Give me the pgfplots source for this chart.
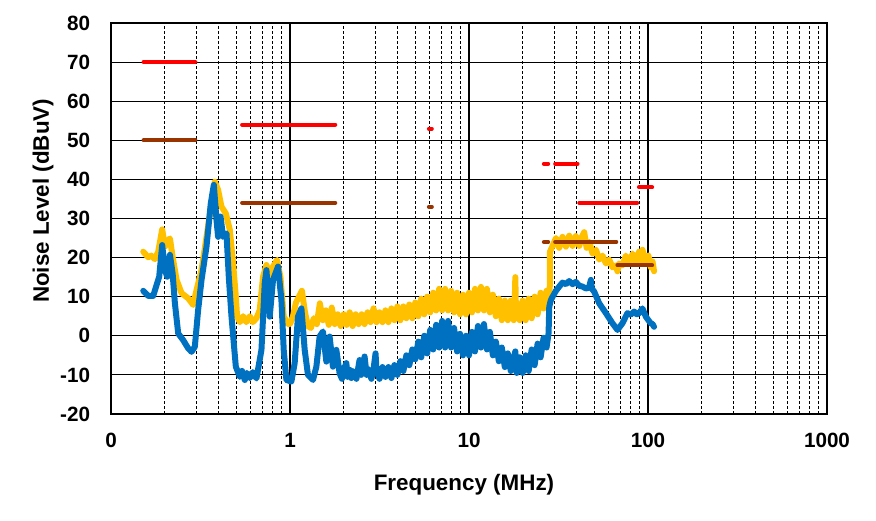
\documentclass[border=0pt]{standalone}
\usepackage{pgfplots}
\pgfplotsset{compat=1.18}
\usepackage{fontspec}
\setmainfont{Liberation Sans}
\definecolor{ylw}{RGB}{255,192,0}
\definecolor{blu}{RGB}{0,112,192}
\definecolor{limred}{RGB}{255,0,0}
\definecolor{limbrown}{RGB}{153,51,0}

\begin{document}
\begin{tikzpicture}
\begin{axis}[
  name=ax,
  scale only axis,
  width=537pt, height=293.25pt,
  xmode=log,
  xmin=0.1, xmax=1000,
  ymin=-20, ymax=80,
  xtick={0.1,1,10,100,1000},
  xticklabels={0,1,10,100,1000},
  minor xtick={0.2,0.3,0.4,0.5,0.6,0.7,0.8,0.9,2,3,4,5,6,7,8,9,20,30,40,50,60,70,80,90,200,300,400,500,600,700,800,900},
  ytick={-20,-10,0,10,20,30,40,50,60,70,80},
  yticklabels={-20,-10,0,10,20,30,40,50,60,70,80},
  xmajorgrids, xminorgrids, ymajorgrids,
  major grid style={black, line width=0.8pt},
  minor grid style={black, line width=0.75pt, dash pattern=on 2.25pt off 1.5pt},
  axis line style={black, line width=1.1pt},
  major tick length=0pt, minor tick length=0pt,
  tick label style={font=\fontsize{15.5}{18}\selectfont\bfseries},
  yticklabel style={anchor=east, inner sep=0pt, xshift=-15.5pt},
  xticklabel style={anchor=north, inner sep=0pt, yshift=-14pt},
  clip=false,
]
% measured noise, upper trace
\addplot[ylw, line width=4.5pt, line join=round, line cap=round] coordinates {
  (0.1514,21.5) (0.1614,20.1) (0.168,20.5) (0.1759,19.6) (0.1836,21.5) (0.1932,27.2)
  (0.2001,22.8) (0.2061,24.1) (0.2134,24.9) (0.2209,20.2) (0.2325,14.3) (0.2479,10.9)
  (0.2698,9.6) (0.2877,7.9) (0.3006,11.7) (0.3205,16.8) (0.3416,25.3) (0.3644,33.9)
  (0.3802,39.4) (0.3966,37.3) (0.4143,33.0) (0.4379,31.3) (0.4610,27.1) (0.4810,18.5)
  (0.4981,10.0) (0.5064,4.9) (0.525,3.5) (0.547,5.0) (0.570,3.5) (0.596,5.0) (0.620,3.5)
  (0.6496,4.5) (0.6776,6.6) (0.7070,15.1) (0.7386,18.1) (0.7706,15.1) (0.8039,17.7)
  (0.8462,19.4) (0.8842,15.1) (0.9224,4.9) (0.9745,3.0)
  (1.000,3.0) (1.039,5.0) (1.080,8.5) (1.122,10.0) (1.166,11.5) (1.212,6.0) (1.259,2.5)
  (1.308,2.0) (1.359,4.5) (1.413,3.0) (1.468,8.3) (1.525,4.0) (1.585,6.5) (1.647,2.8)
  (1.711,7.2) (1.778,3.0) (1.848,5.5) (1.920,2.5) (1.995,5.5) (2.073,2.8) (2.154,6.0)
  (2.239,2.5) (2.326,5.5) (2.417,3.0) (2.512,5.5) (2.610,3.0) (2.712,6.0) (2.818,3.5)
  (2.929,7.0) (3.043,3.5) (3.162,6.0) (3.286,3.5) (3.415,6.5) (3.548,3.5) (3.687,7.0)
  (3.831,4.0) (3.981,7.5) (4.137,4.0) (4.299,7.5) (4.467,4.5) (4.642,8.0) (4.823,4.5)
  (5.012,8.5) (5.208,5.0) (5.412,9.5) (5.623,5.5) (5.843,10.0) (6.072,6.0) (6.310,11.0)
  (6.556,6.5) (6.813,12.0) (7.079,6.5) (7.356,12.0) (7.644,6.5) (7.943,11.5) (8.254,6.0)
  (8.577,11.0) (8.913,5.5) (9.261,10.5) (9.624,5.5) (10.00,11.0) (10.39,6.0) (10.80,12.0)
  (11.22,6.5) (11.66,12.5) (12.12,6.5) (12.59,12.0) (13.08,6.0) (13.59,10.5) (14.13,5.0)
  (14.68,9.5) (15.25,4.0) (15.85,9.0) (16.47,4.0) (17.11,9.0) (17.78,4.0) (18.00,8.0)
  (18.15,15.0) (18.30,5.5) (18.48,8.5) (19.20,4.0) (19.95,9.0) (20.73,4.0) (21.54,9.5)
  (22.39,4.5) (23.26,10.0) (24.17,5.5) (25.12,11.0) (26.10,7.0) (27.12,11.5) (28.00,9.0)
  (28.25,12.0) (28.34,21.5) (29.31,23.0) (30.6,25.0) (31.9,22.5) (33.3,25.3) (34.8,22.8)
  (36.3,25.6) (37.9,23.0) (39.5,25.5) (41.3,23.0) (42.6,25.2) (44.0,26.5) (45.4,22.5)
  (47.0,24.0) (49.0,21.0) (51.2,22.0) (53.4,19.5) (55.7,20.5) (58.2,18.5) (60.7,19.5)
  (63.4,17.5) (66.1,18.0) (67.5,16.5) (69.0,18.5) (72.0,18.0) (75.2,20.5) (78.5,18.5)
  (82.0,21.0) (85.5,19.0) (89.2,21.5) (91.0,19.0) (93.1,22.0) (97.2,18.5) (100.5,20.5)
  (103.6,17.5) (106.0,19.0) (108.1,16.5)
};
% measured noise, lower trace
\addplot[blu, line width=4.5pt, line join=round, line cap=round] coordinates {
  (0.1514,11.5) (0.1614,10.2) (0.1721,10.2) (0.1798,13.0) (0.1859,15.1) (0.1932,23.2)
  (0.2001,16.8) (0.2061,15.1) (0.2134,20.7) (0.2209,16.0) (0.2275,8.3) (0.2374,0.6)
  (0.2530,-1.1) (0.2698,-3.2) (0.2818,-4.1) (0.2940,-2.8) (0.3068,6.6) (0.3205,14.3)
  (0.3416,22.8) (0.3611,33.9) (0.3754,38.6) (0.3886,29.6) (0.3966,25.3) (0.4090,30.5)
  (0.4229,25.3) (0.4418,26.2) (0.4550,15.1) (0.4712,4.9) (0.4853,-1.9) (0.4981,-7.9)
  (0.5243,-10.5) (0.540,-9.0) (0.5590,-11.3) (0.575,-9.5) (0.5959,-10.8) (0.620,-9.3)
  (0.6496,-10.9) (0.6927,-3.6) (0.7226,13.4) (0.7386,16.8) (0.7706,4.9) (0.8039,14.3)
  (0.8572,17.7) (0.8954,9.2) (0.9224,-3.6) (0.9548,-11.3) (1.018,-11.7) (1.062,-7.0)
  (1.108,4.9) (1.158,7.0) (1.208,-3.6) (1.260,-10.0) (1.344,-11.3) (1.404,-7.9)
  (1.464,-0.2) (1.528,1.1) (1.596,-6.6) (1.665,-0.2) (1.737,-7.9) (1.815,-3.6)
  (1.893,-9.6) (1.95,-11.0) (2.00,-8.5) (2.064,-7.0) (2.10,-10.5) (2.153,-8.7)
  (2.20,-10.8) (2.25,-9.0) (2.296,-9.6) (2.35,-11.0) (2.447,-6.2) (2.50,-10.0)
  (2.55,-8.5) (2.610,-5.3) (2.68,-10.0) (2.72,-8.5) (2.783,-9.6) (2.85,-11.0)
  (2.929,-8.5) (3.006,-4.5) (3.043,-9.0) (3.162,-11.0) (3.286,-8.0) (3.415,-10.5)
  (3.548,-8.0) (3.687,-10.8) (3.831,-7.5) (3.981,-10.0) (4.137,-6.5) (4.299,-9.0)
  (4.467,-5.0) (4.642,-7.5) (4.823,-3.5) (5.012,-6.0) (5.208,-1.5) (5.412,-5.5)
  (5.623,0.0) (5.843,-4.5) (6.072,1.5) (6.310,-3.5) (6.556,2.8) (6.813,-3.0)
  (7.079,3.8) (7.356,-3.0) (7.644,3.8) (7.943,-3.0) (8.254,2.0) (8.577,-4.0)
  (8.913,0.5) (9.261,-5.0) (9.624,0.0) (10.00,-5.0) (10.39,1.0) (10.80,-4.0)
  (11.22,2.5) (11.66,-3.0) (12.12,3.0) (12.59,-3.5) (13.08,1.0) (13.59,-5.0)
  (14.13,-1.5) (14.68,-6.5) (15.25,-3.0) (15.85,-8.0) (16.47,-4.5) (17.11,-9.0)
  (17.78,-5.5) (18.15,-4.0) (18.48,-9.5) (19.20,-5.5) (19.95,-9.5) (20.73,-5.0)
  (21.54,-9.0) (22.39,-3.5) (23.26,-7.5) (24.17,-2.0) (25.12,-5.5) (26.10,-0.5)
  (27.12,-3.0) (27.83,0.6) (28.08,7.4) (28.6,9.0) (29.31,10.0) (30.6,11.5)
  (31.93,12.6) (33.3,13.6) (34.79,13.2) (36.3,14.0) (37.88,13.2) (39.5,13.8)
  (41.28,12.8) (43.0,12.6) (45.0,12.1) (46.8,12.3) (47.97,14.3) (48.6,12.0)
  (50.05,11.3) (53.37,8.3) (58.17,5.8) (63.31,3.2) (67.51,1.5) (71.97,3.2)
  (76.74,5.8) (80.0,5.4) (83.66,6.2) (86.5,5.5) (89.19,5.8) (93.06,7.0) (97.21,4.9)
  (100.5,4.0) (103.6,3.2) (106.0,3.0) (108.1,2.3)
};
% limit lines
\pgfplotsset{lim/.style={line width=3pt, line cap=round}}
\addplot[lim, limred] coordinates {(0.152,70) (0.296,70)};
\addplot[lim, limred] coordinates {(0.54,54) (1.79,54)};
\addplot[lim, limred] coordinates {(5.97,53) (6.2,53)};
\addplot[lim, limred] coordinates {(26.2,44) (27.7,44)};
\addplot[lim, limred] coordinates {(30.3,44) (40.4,44)};
\addplot[lim, limred] coordinates {(41.3,34) (87.0,34)};
\addplot[lim, limred] coordinates {(89.0,38) (105.5,38)};
\addplot[lim, limbrown] coordinates {(0.152,50) (0.296,50)};
\addplot[lim, limbrown] coordinates {(0.54,34) (1.79,34)};
\addplot[lim, limbrown] coordinates {(5.97,33) (6.2,33)};
\addplot[lim, limbrown] coordinates {(26.2,24) (27.7,24)};
\addplot[lim, limbrown] coordinates {(30.3,24) (66.5,24)};
\addplot[lim, limbrown] coordinates {(67.5,18) (105.5,18)};

\node[font=\fontsize{16.8}{20}\selectfont\bfseries, anchor=center]
  at ([yshift=-53pt]rel axis cs:0.493,0) {Frequency (MHz)};
\node[font=\fontsize{16.8}{20}\selectfont\bfseries, anchor=center, rotate=90]
  at ([xshift=-51pt]rel axis cs:0,0.545) {Noise Level (dBuV)};
\end{axis}
\pgfresetboundingbox
\path[use as bounding box] ([xshift=-83.25pt, yshift=-80.25pt]ax.south west)
  rectangle ([xshift=36.75pt, yshift=17.25pt]ax.north east);
\end{tikzpicture}
\end{document}
